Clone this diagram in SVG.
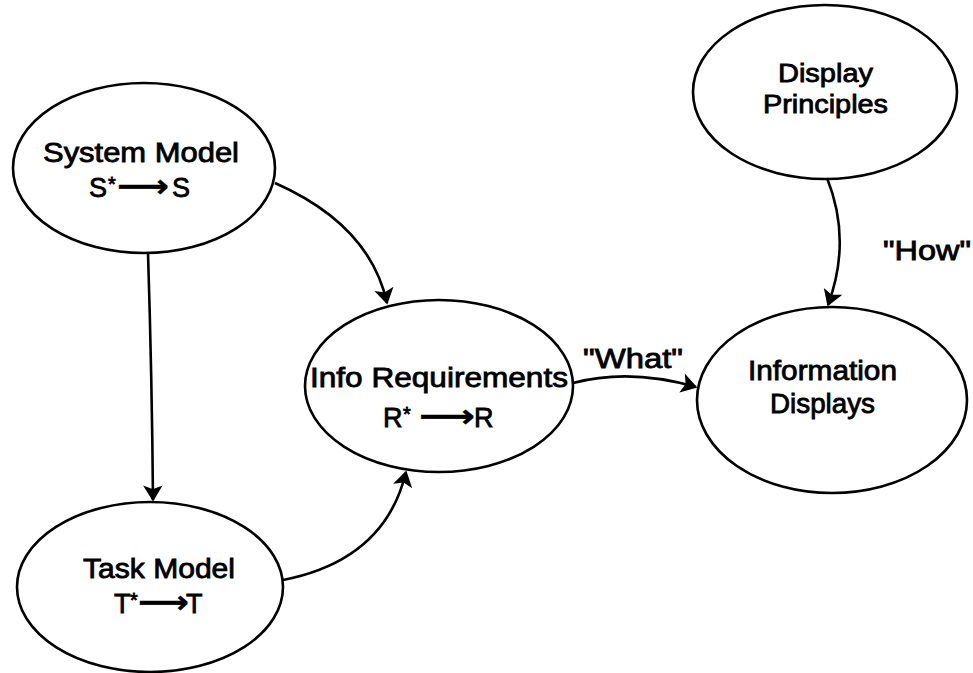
<svg xmlns="http://www.w3.org/2000/svg" width="973" height="673" viewBox="0 0 973 673">
<defs>
<style>
.node ellipse{fill:#fff;stroke:#000;stroke-width:2.6}
.edge{fill:none;stroke:#000;stroke-width:2.6}
text{font-family:"Liberation Sans",Arial,sans-serif;font-size:27px;fill:#000;stroke:#000;stroke-width:0.8}
.sm{font-size:25px}
.arr{font-family:"DejaVu Sans","Liberation Sans",sans-serif;font-size:32px;font-weight:bold;stroke-width:0.4}
.sup{font-size:20px}
</style>
<marker id="ah" markerUnits="userSpaceOnUse" markerWidth="20" markerHeight="20" viewBox="-16 -10 20 20" refX="0" refY="0" orient="auto">
<path d="M-13,-8 L0,0 L-13,8 L-10,0 Z" fill="#000" stroke="#000" stroke-width="1.5" stroke-linejoin="miter"/>
</marker>
</defs>
<rect width="973" height="673" fill="#fff"/>
<g id="connectors">
<path class="edge" d="M148,253 Q152,380 153,500" marker-end="url(#ah)"/>
<path class="edge" d="M275,183 Q370,225 387,303" marker-end="url(#ah)"/>
<path class="edge" d="M283,580 Q385,560 406,472" marker-end="url(#ah)"/>
<path class="edge" d="M573,383 Q630,368 696,387" marker-end="url(#ah)"/>
<path class="edge" d="M827,178 Q852,240 828,305" marker-end="url(#ah)"/>
<text x="583" y="368" textLength="100" lengthAdjust="spacingAndGlyphs">"What"</text>
<text x="883" y="260" textLength="88" lengthAdjust="spacingAndGlyphs">"How"</text>
</g>
<g id="system-model" class="node">
<ellipse cx="144" cy="168" rx="131" ry="85"/>
<text x="43" y="162" textLength="196" lengthAdjust="spacingAndGlyphs">System Model</text>
<text y="197"><tspan x="89">S</tspan><tspan class="sup" x="108" dy="-6">*</tspan><tspan class="arr" x="117" dy="6" textLength="52" lengthAdjust="spacingAndGlyphs">⟶</tspan><tspan x="172">S</tspan></text>
</g>
<g id="info-requirements" class="node">
<ellipse cx="439" cy="386" rx="134" ry="86"/>
<text x="310" y="387" textLength="258" lengthAdjust="spacingAndGlyphs">Info Requirements</text>
<text y="427"><tspan x="383">R</tspan><tspan class="sup" x="403" dy="-6">*</tspan><tspan class="arr" x="419" dy="6" textLength="56" lengthAdjust="spacingAndGlyphs">⟶</tspan><tspan x="474">R</tspan></text>
</g>
<g id="task-model" class="node">
<ellipse cx="150" cy="587" rx="133" ry="85"/>
<text x="83" y="578" textLength="152" lengthAdjust="spacingAndGlyphs">Task Model</text>
<text y="613"><tspan x="114">T</tspan><tspan class="sup" x="130" dy="-6">*</tspan><tspan class="arr" x="138" dy="6" textLength="51" lengthAdjust="spacingAndGlyphs">⟶</tspan><tspan x="186">T</tspan></text>
</g>
<g id="display-principles" class="node">
<ellipse cx="825" cy="92" rx="132" ry="87"/>
<text class="sm" x="778" y="82" textLength="95" lengthAdjust="spacingAndGlyphs">Display</text>
<text class="sm" x="763" y="113" textLength="125" lengthAdjust="spacingAndGlyphs">Principles</text>
</g>
<g id="information-displays" class="node">
<ellipse cx="832" cy="400" rx="135" ry="93"/>
<text x="748" y="380" textLength="149" lengthAdjust="spacingAndGlyphs">Information</text>
<text x="770" y="413" textLength="105" lengthAdjust="spacingAndGlyphs">Displays</text>
</g>
</svg>
